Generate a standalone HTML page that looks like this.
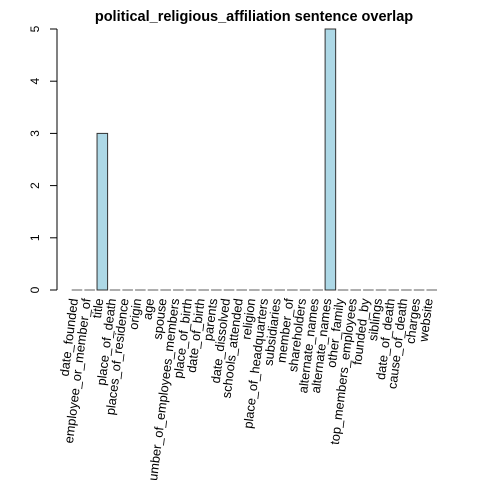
<!DOCTYPE html>
<html><head><meta charset="utf-8"><style>html,body{margin:0;padding:0;background:#fff}svg{display:block}</style></head>
<body>
<svg id="chart" width="480" height="480" xmlns="http://www.w3.org/2000/svg" font-family="Liberation Sans, sans-serif">
<text x="254" y="21" text-anchor="middle" font-weight="bold" font-size="14.5">political_religious_affiliation sentence overlap</text>
<g id="yaxis"></g>
<g id="bars"></g>
<g id="xlabels"></g>
</svg>
<script>
const categories = ["date_founded","employee_or_member_of","title","place_of_death","places_of_residence","origin","age","spouse","number_of_employees_members","place_of_birth","date_of_birth","parents","date_dissolved","schools_attended","religion","place_of_headquarters","subsidiaries","member_of","shareholders","alternate_names","alternate_names","other_family","top_members_employees","founded_by","siblings","date_of_death","cause_of_death","charges","website"];
const values = [0,0,3,0,0,0,0,0,0,0,0,0,0,0,0,0,0,0,0,0,5,0,0,0,0,0,0,0,0];
const yTicks = [0,1,2,3,4,5];
const NS="http://www.w3.org/2000/svg";
const period=12.67, barW=10.56, x0=71.7;
const y=v=>290-v*52.2;
const xs=i=>x0+i*period;
function mk(tag,attrs,parent){const e=document.createElementNS(NS,tag);for(const k in attrs)e.setAttribute(k,attrs[k]);parent.appendChild(e);return e;}
const ya=document.getElementById('yaxis');
const axl=mk('line',{x1:57,x2:57,y1:y(yTicks[0]),y2:y(yTicks[yTicks.length-1]),stroke:'#000'},ya);


yTicks.forEach(t=>{
  const tk=mk('line',{x1:50,x2:57,y1:y(t),y2:y(t),stroke:'#000'},ya);
  
  
  const tx=mk('text',{x:0,y:0,transform:`translate(39,${y(t)}) rotate(-90)`,'text-anchor':'middle','font-size':12},ya);
  
  
  tx.textContent=t;
});
const bg=document.getElementById('bars'), lg=document.getElementById('xlabels');
categories.forEach((c,i)=>{
  const v=values[i];
  let r;
  if(v>0){
    r=mk('rect',{x:xs(i),y:y(v),width:barW,height:y(0)-y(v),fill:'#add8e6',stroke:'#333','stroke-width':1},bg);
  } else {
    r=mk('line',{x1:xs(i),x2:xs(i)+barW,y1:y(0),y2:y(0),stroke:'#777','stroke-width':1.2},bg);
  }
  
  
  const cx=xs(i)+barW/2;
  const t=mk('text',{x:0,y:0,transform:`translate(${cx+1},299) rotate(-83)`,'text-anchor':'end','font-size':12.8},lg);
  
  
  t.textContent=c;
});
</script>
</body></html>
